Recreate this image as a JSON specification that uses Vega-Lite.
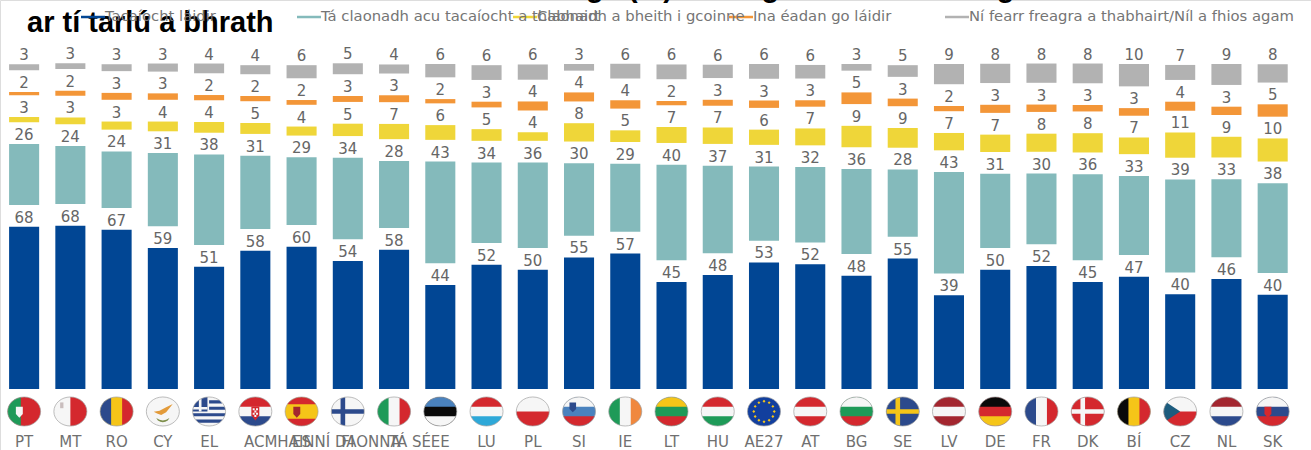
{"$schema":"https://vega.github.io/schema/vega-lite/v6.json","width":1311,"height":450,"padding":0,"autosize":{"type":"none"},"background":"white",
"datasets":{"headline":[{"line":"g\u00a0\u00a0\u00a0(%)\u00a0\u00a0\u00a0\u00a0\u00a0\u00a0\u00a0\u00a0\u00a0\u00a0\u00a0g\u00a0\u00a0\u00a0\u00a0\u00a0\u00a0\u00a0\u00a0\u00a0\u00a0\u00a0\u00a0\u00a0\u00a0\u00a0\u00a0\u00a0\u00a0\u00a0\u00a0\u00a0\u00a0\u00a0\u00a0\u00a0\u00a0\u00a0g","row":"first"},{"line":"ar tí tarlú a bhrath","row":"second"}],
"legendRows":[{"response":"Tacaíocht láidir"},{"response":"Tá claonadh acu tacaíocht a thabhairt"},{"response":"Claonadh a bheith i gcoinne"},{"response":"Ina éadan go láidir"},{"response":"Ní fearr freagra a thabhairt/Níl a fhios agam"}],
"bars":[
{"country":"PT","response":"Tacaíocht láidir","value":68.2,"label":68},{"country":"PT","response":"Tá claonadh acu tacaíocht a thabhairt","value":25.6,"label":26},{"country":"PT","response":"Claonadh a bheith i gcoinne","value":2.2,"label":3},{"country":"PT","response":"Ina éadan go láidir","value":1.4,"label":2},{"country":"PT","response":"Ní fearr freagra a thabhairt/Níl a fhios agam","value":2.5,"label":3},
{"country":"MT","response":"Tacaíocht láidir","value":68.6,"label":68},{"country":"MT","response":"Tá claonadh acu tacaíocht a thabhairt","value":24.4,"label":24},{"country":"MT","response":"Claonadh a bheith i gcoinne","value":2.8,"label":3},{"country":"MT","response":"Ina éadan go láidir","value":2.1,"label":2},{"country":"MT","response":"Ní fearr freagra a thabhairt/Níl a fhios agam","value":2.4,"label":3},
{"country":"RO","response":"Tacaíocht láidir","value":66.9,"label":67},{"country":"RO","response":"Tá claonadh acu tacaíocht a thabhairt","value":23.8,"label":24},{"country":"RO","response":"Claonadh a bheith i gcoinne","value":3.4,"label":3},{"country":"RO","response":"Ina éadan go láidir","value":2.9,"label":3},{"country":"RO","response":"Ní fearr freagra a thabhairt/Níl a fhios agam","value":2.9,"label":3},
{"country":"CY","response":"Tacaíocht láidir","value":59.2,"label":59},{"country":"CY","response":"Tá claonadh acu tacaíocht a thabhairt","value":30.8,"label":31},{"country":"CY","response":"Claonadh a bheith i gcoinne","value":4.1,"label":4},{"country":"CY","response":"Ina éadan go láidir","value":2.7,"label":3},{"country":"CY","response":"Ní fearr freagra a thabhairt/Níl a fhios agam","value":3.4,"label":3},
{"country":"EL","response":"Tacaíocht láidir","value":51.4,"label":51},{"country":"EL","response":"Tá claonadh acu tacaíocht a thabhairt","value":38.0,"label":38},{"country":"EL","response":"Claonadh a bheith i gcoinne","value":4.5,"label":4},{"country":"EL","response":"Ina éadan go láidir","value":2.2,"label":2},{"country":"EL","response":"Ní fearr freagra a thabhairt/Níl a fhios agam","value":4.1,"label":4},
{"country":"ACMHAINNÍ DAONNA","response":"Tacaíocht láidir","value":58.1,"label":58},{"country":"ACMHAINNÍ DAONNA","response":"Tá claonadh acu tacaíocht a thabhairt","value":30.8,"label":31},{"country":"ACMHAINNÍ DAONNA","response":"Claonadh a bheith i gcoinne","value":4.6,"label":5},{"country":"ACMHAINNÍ DAONNA","response":"Ina éadan go láidir","value":2.2,"label":2},{"country":"ACMHAINNÍ DAONNA","response":"Ní fearr freagra a thabhairt/Níl a fhios agam","value":3.8,"label":4},
{"country":"ES","response":"Tacaíocht láidir","value":59.8,"label":60},{"country":"ES","response":"Tá claonadh acu tacaíocht a thabhairt","value":28.4,"label":29},{"country":"ES","response":"Claonadh a bheith i gcoinne","value":3.8,"label":4},{"country":"ES","response":"Ina éadan go láidir","value":2.0,"label":2},{"country":"ES","response":"Ní fearr freagra a thabhairt/Níl a fhios agam","value":5.5,"label":6},
{"country":"FI","response":"Tacaíocht láidir","value":53.8,"label":54},{"country":"FI","response":"Tá claonadh acu tacaíocht a thabhairt","value":34.2,"label":34},{"country":"FI","response":"Claonadh a bheith i gcoinne","value":5.2,"label":5},{"country":"FI","response":"Ina éadan go láidir","value":2.5,"label":3},{"country":"FI","response":"Ní fearr freagra a thabhairt/Níl a fhios agam","value":4.6,"label":5},
{"country":"TÁ SÉ","response":"Tacaíocht láidir","value":58.5,"label":58},{"country":"TÁ SÉ","response":"Tá claonadh acu tacaíocht a thabhairt","value":28.2,"label":28},{"country":"TÁ SÉ","response":"Claonadh a bheith i gcoinne","value":6.4,"label":7},{"country":"TÁ SÉ","response":"Ina éadan go láidir","value":2.9,"label":3},{"country":"TÁ SÉ","response":"Ní fearr freagra a thabhairt/Níl a fhios agam","value":3.8,"label":4},
{"country":"EE","response":"Tacaíocht láidir","value":43.7,"label":44},{"country":"EE","response":"Tá claonadh acu tacaíocht a thabhairt","value":42.7,"label":43},{"country":"EE","response":"Claonadh a bheith i gcoinne","value":6.2,"label":6},{"country":"EE","response":"Ina éadan go láidir","value":1.8,"label":2},{"country":"EE","response":"Ní fearr freagra a thabhairt/Níl a fhios agam","value":5.6,"label":6},
{"country":"LU","response":"Tacaíocht láidir","value":52.2,"label":52},{"country":"LU","response":"Tá claonadh acu tacaíocht a thabhairt","value":33.8,"label":34},{"country":"LU","response":"Claonadh a bheith i gcoinne","value":4.9,"label":5},{"country":"LU","response":"Ina éadan go láidir","value":2.4,"label":3},{"country":"LU","response":"Ní fearr freagra a thabhairt/Níl a fhios agam","value":6.2,"label":6},
{"country":"PL","response":"Tacaíocht láidir","value":50.1,"label":50},{"country":"PL","response":"Tá claonadh acu tacaíocht a thabhairt","value":35.9,"label":36},{"country":"PL","response":"Claonadh a bheith i gcoinne","value":3.6,"label":4},{"country":"PL","response":"Ina éadan go láidir","value":3.8,"label":4},{"country":"PL","response":"Ní fearr freagra a thabhairt/Níl a fhios agam","value":6.4,"label":6},
{"country":"SI","response":"Tacaíocht láidir","value":55.3,"label":55},{"country":"SI","response":"Tá claonadh acu tacaíocht a thabhairt","value":30.4,"label":30},{"country":"SI","response":"Claonadh a bheith i gcoinne","value":7.7,"label":8},{"country":"SI","response":"Ina éadan go láidir","value":3.8,"label":4},{"country":"SI","response":"Ní fearr freagra a thabhairt/Níl a fhios agam","value":2.8,"label":3},
{"country":"IE","response":"Tacaíocht láidir","value":56.9,"label":57},{"country":"IE","response":"Tá claonadh acu tacaíocht a thabhairt","value":28.6,"label":29},{"country":"IE","response":"Claonadh a bheith i gcoinne","value":4.9,"label":5},{"country":"IE","response":"Ina éadan go láidir","value":3.5,"label":4},{"country":"IE","response":"Ní fearr freagra a thabhairt/Níl a fhios agam","value":6.2,"label":6},
{"country":"LT","response":"Tacaíocht láidir","value":45.0,"label":45},{"country":"LT","response":"Tá claonadh acu tacaíocht a thabhairt","value":40.1,"label":40},{"country":"LT","response":"Claonadh a bheith i gcoinne","value":6.7,"label":7},{"country":"LT","response":"Ina éadan go láidir","value":1.8,"label":2},{"country":"LT","response":"Ní fearr freagra a thabhairt/Níl a fhios agam","value":6.2,"label":6},
{"country":"HU","response":"Tacaíocht láidir","value":47.9,"label":48},{"country":"HU","response":"Tá claonadh acu tacaíocht a thabhairt","value":36.8,"label":37},{"country":"HU","response":"Claonadh a bheith i gcoinne","value":6.9,"label":7},{"country":"HU","response":"Ina éadan go láidir","value":2.5,"label":3},{"country":"HU","response":"Ní fearr freagra a thabhairt/Níl a fhios agam","value":5.6,"label":6},
{"country":"AE27","response":"Tacaíocht láidir","value":53.2,"label":53},{"country":"AE27","response":"Tá claonadh acu tacaíocht a thabhairt","value":31.1,"label":31},{"country":"AE27","response":"Claonadh a bheith i gcoinne","value":6.4,"label":6},{"country":"AE27","response":"Ina éadan go láidir","value":3.1,"label":3},{"country":"AE27","response":"Ní fearr freagra a thabhairt/Níl a fhios agam","value":6.2,"label":6},
{"country":"AT","response":"Tacaíocht láidir","value":52.4,"label":52},{"country":"AT","response":"Tá claonadh acu tacaíocht a thabhairt","value":31.7,"label":32},{"country":"AT","response":"Claonadh a bheith i gcoinne","value":7.1,"label":7},{"country":"AT","response":"Ina éadan go láidir","value":2.7,"label":3},{"country":"AT","response":"Ní fearr freagra a thabhairt/Níl a fhios agam","value":5.7,"label":6},
{"country":"BG","response":"Tacaíocht láidir","value":47.6,"label":48},{"country":"BG","response":"Tá claonadh acu tacaíocht a thabhairt","value":35.7,"label":36},{"country":"BG","response":"Claonadh a bheith i gcoinne","value":9.0,"label":9},{"country":"BG","response":"Ina éadan go láidir","value":4.9,"label":5},{"country":"BG","response":"Ní fearr freagra a thabhairt/Níl a fhios agam","value":2.8,"label":3},
{"country":"SE","response":"Tacaíocht láidir","value":54.8,"label":55},{"country":"SE","response":"Tá claonadh acu tacaíocht a thabhairt","value":28.3,"label":28},{"country":"SE","response":"Claonadh a bheith i gcoinne","value":8.3,"label":9},{"country":"SE","response":"Ina éadan go láidir","value":3.2,"label":3},{"country":"SE","response":"Ní fearr freagra a thabhairt/Níl a fhios agam","value":4.9,"label":5},
{"country":"LV","response":"Tacaíocht láidir","value":39.4,"label":39},{"country":"LV","response":"Tá claonadh acu tacaíocht a thabhairt","value":42.6,"label":43},{"country":"LV","response":"Claonadh a bheith i gcoinne","value":7.3,"label":7},{"country":"LV","response":"Ina éadan go láidir","value":2.2,"label":2},{"country":"LV","response":"Ní fearr freagra a thabhairt/Níl a fhios agam","value":8.5,"label":9},
{"country":"DE","response":"Tacaíocht láidir","value":50.1,"label":50},{"country":"DE","response":"Tá claonadh acu tacaíocht a thabhairt","value":31.2,"label":31},{"country":"DE","response":"Claonadh a bheith i gcoinne","value":7.3,"label":7},{"country":"DE","response":"Ina éadan go láidir","value":3.4,"label":3},{"country":"DE","response":"Ní fearr freagra a thabhairt/Níl a fhios agam","value":8.1,"label":8},
{"country":"FR","response":"Tacaíocht láidir","value":51.7,"label":52},{"country":"FR","response":"Tá claonadh acu tacaíocht a thabhairt","value":29.7,"label":30},{"country":"FR","response":"Claonadh a bheith i gcoinne","value":7.6,"label":8},{"country":"FR","response":"Ina éadan go láidir","value":3.1,"label":3},{"country":"FR","response":"Ní fearr freagra a thabhairt/Níl a fhios agam","value":8.1,"label":8},
{"country":"DK","response":"Tacaíocht láidir","value":45.0,"label":45},{"country":"DK","response":"Tá claonadh acu tacaíocht a thabhairt","value":36.1,"label":36},{"country":"DK","response":"Claonadh a bheith i gcoinne","value":8.1,"label":8},{"country":"DK","response":"Ina éadan go láidir","value":2.7,"label":3},{"country":"DK","response":"Ní fearr freagra a thabhairt/Níl a fhios agam","value":8.3,"label":8},
{"country":"BÍ","response":"Tacaíocht láidir","value":47.2,"label":47},{"country":"BÍ","response":"Tá claonadh acu tacaíocht a thabhairt","value":33.2,"label":33},{"country":"BÍ","response":"Claonadh a bheith i gcoinne","value":7.0,"label":7},{"country":"BÍ","response":"Ina éadan go láidir","value":3.2,"label":3},{"country":"BÍ","response":"Ní fearr freagra a thabhairt/Níl a fhios agam","value":9.4,"label":10},
{"country":"CZ","response":"Tacaíocht láidir","value":39.8,"label":40},{"country":"CZ","response":"Tá claonadh acu tacaíocht a thabhairt","value":39.1,"label":39},{"country":"CZ","response":"Claonadh a bheith i gcoinne","value":10.6,"label":11},{"country":"CZ","response":"Ina éadan go láidir","value":3.8,"label":4},{"country":"CZ","response":"Ní fearr freagra a thabhairt/Níl a fhios agam","value":6.3,"label":7},
{"country":"NL","response":"Tacaíocht láidir","value":46.2,"label":46},{"country":"NL","response":"Tá claonadh acu tacaíocht a thabhairt","value":32.8,"label":33},{"country":"NL","response":"Claonadh a bheith i gcoinne","value":8.7,"label":9},{"country":"NL","response":"Ina éadan go láidir","value":3.5,"label":3},{"country":"NL","response":"Ní fearr freagra a thabhairt/Níl a fhios agam","value":8.8,"label":9},
{"country":"SK","response":"Tacaíocht láidir","value":39.6,"label":40},{"country":"SK","response":"Tá claonadh acu tacaíocht a thabhairt","value":37.7,"label":38},{"country":"SK","response":"Claonadh a bheith i gcoinne","value":9.7,"label":10},{"country":"SK","response":"Ina éadan go láidir","value":5.2,"label":5},{"country":"SK","response":"Ní fearr freagra a thabhairt/Níl a fhios agam","value":7.7,"label":8}
],
"flags":[
{"country":"PT","part":"disk","tint":"red"},{"country":"PT","part":"vleft40","tint":"green"},{"country":"PT","part":"shieldL","tint":"white"},
{"country":"MT","part":"disk","tint":"white"},{"country":"MT","part":"vright2","tint":"red"},{"country":"MT","part":"cornerL","tint":"silver"},
{"country":"RO","part":"disk","tint":"yellow"},{"country":"RO","part":"v3left","tint":"blue"},{"country":"RO","part":"v3right","tint":"red"},
{"country":"CY","part":"disk","tint":"white"},{"country":"CY","part":"island","tint":"amber"},{"country":"CY","part":"leaves","tint":"olive"},
{"country":"EL","part":"disk","tint":"white"},{"country":"EL","part":"elstripes","tint":"blue"},{"country":"EL","part":"canton","tint":"blue"},{"country":"EL","part":"cantoncross","tint":"white"},
{"country":"ACMHAINNÍ DAONNA","part":"disk","tint":"white"},{"country":"ACMHAINNÍ DAONNA","part":"h3top","tint":"red"},{"country":"ACMHAINNÍ DAONNA","part":"h3bot","tint":"blue"},{"country":"ACMHAINNÍ DAONNA","part":"shieldC","tint":"red"},{"country":"ACMHAINNÍ DAONNA","part":"checker","tint":"white"},
{"country":"ES","part":"disk","tint":"yellow"},{"country":"ES","part":"hqtop","tint":"red"},{"country":"ES","part":"hqbot","tint":"red"},{"country":"ES","part":"shieldL","tint":"maroon"},
{"country":"FI","part":"disk","tint":"white"},{"country":"FI","part":"crossH","tint":"blue"},{"country":"FI","part":"crossV","tint":"blue"},
{"country":"TÁ SÉ","part":"disk","tint":"white"},{"country":"TÁ SÉ","part":"v3left","tint":"green"},{"country":"TÁ SÉ","part":"v3right","tint":"red"},
{"country":"EE","part":"disk","tint":"black"},{"country":"EE","part":"h3top","tint":"steel"},{"country":"EE","part":"h3bot","tint":"white"},
{"country":"LU","part":"disk","tint":"white"},{"country":"LU","part":"h3top","tint":"red"},{"country":"LU","part":"h3bot","tint":"sky"},
{"country":"PL","part":"disk","tint":"white"},{"country":"PL","part":"hbot2","tint":"red"},
{"country":"SI","part":"disk","tint":"steel"},{"country":"SI","part":"h3top","tint":"white"},{"country":"SI","part":"h3bot","tint":"red"},{"country":"SI","part":"shieldTL","tint":"blue"},
{"country":"IE","part":"disk","tint":"white"},{"country":"IE","part":"v3left","tint":"green"},{"country":"IE","part":"v3right","tint":"orange"},
{"country":"LT","part":"disk","tint":"green"},{"country":"LT","part":"h3top","tint":"yellow"},{"country":"LT","part":"h3bot","tint":"red"},
{"country":"HU","part":"disk","tint":"white"},{"country":"HU","part":"h3top","tint":"red"},{"country":"HU","part":"h3bot","tint":"green"},
{"country":"AE27","part":"disk","tint":"eu"},{"country":"AE27","part":"stars","tint":"yellow"},
{"country":"AT","part":"disk","tint":"white"},{"country":"AT","part":"h3top","tint":"red"},{"country":"AT","part":"h3bot","tint":"red"},
{"country":"BG","part":"disk","tint":"green"},{"country":"BG","part":"h3top","tint":"white"},{"country":"BG","part":"h3bot","tint":"red"},
{"country":"SE","part":"disk","tint":"blue"},{"country":"SE","part":"crossH","tint":"yellow"},{"country":"SE","part":"crossV","tint":"yellow"},
{"country":"LV","part":"disk","tint":"white"},{"country":"LV","part":"h3top","tint":"maroon"},{"country":"LV","part":"h3bot","tint":"maroon"},
{"country":"DE","part":"disk","tint":"red"},{"country":"DE","part":"h3top","tint":"black"},{"country":"DE","part":"h3bot","tint":"yellow"},
{"country":"FR","part":"disk","tint":"white"},{"country":"FR","part":"v3left","tint":"blue"},{"country":"FR","part":"v3right","tint":"red"},
{"country":"DK","part":"disk","tint":"red"},{"country":"DK","part":"crossH","tint":"white"},{"country":"DK","part":"crossV","tint":"white"},
{"country":"BÍ","part":"disk","tint":"yellow"},{"country":"BÍ","part":"v3left","tint":"black"},{"country":"BÍ","part":"v3right","tint":"red"},
{"country":"CZ","part":"disk","tint":"white"},{"country":"CZ","part":"hbot2","tint":"red"},{"country":"CZ","part":"tri","tint":"petrol"},
{"country":"NL","part":"disk","tint":"white"},{"country":"NL","part":"h3top","tint":"maroon"},{"country":"NL","part":"h3bot","tint":"blue"},
{"country":"SK","part":"disk","tint":"blue"},{"country":"SK","part":"h3top","tint":"white"},{"country":"SK","part":"h3bot","tint":"red"},{"country":"SK","part":"shieldL","tint":"red"}
]},
"resolve":{"scale":{"x":"independent"},"axis":{"x":"independent"}},
"layer":[
{"data":{"name":"headline"},
"encoding":{"x":{"field":"row","type":"nominal","sort":null,"axis":null,"scale":{"type":"point","domain":["second","first"],"range":[27,586],"padding":0}},"text":{"field":"line","type":"nominal"}},
"layer":[
{"transform":[{"filter":"datum.row==='first'"}],"mark":{"type":"text","align":"left","baseline":"alphabetic","font":"Liberation Sans","fontWeight":"bold","fontSize":29,"color":"#000000"},"encoding":{"y":{"datum":164.7,"type":"quantitative"}}},
{"transform":[{"filter":"datum.row==='second'"}],"mark":{"type":"text","align":"left","baseline":"alphabetic","font":"Liberation Sans","fontWeight":"bold","fontSize":29,"color":"#000000"},"encoding":{"y":{"datum":150,"type":"quantitative"}}}
]},
{"encoding":{"x":{"field":"country","type":"nominal","sort":null,
"scale":{"domain":["PT","MT","RO","CY","EL","ACMHAINNÍ DAONNA","ES","FI","TÁ SÉ","EE","LU","PL","SI","IE","LT","HU","AE27","AT","BG","SE","LV","DE","FR","DK","BÍ","CZ","NL","SK"],"range":[1,1295.8],"paddingInner":0.35,"paddingOuter":0.175},
"axis":{"title":null,"domain":false,"ticks":false,"labelAngle":0,"labelFontSize":15,"labelFont":"DejaVu Sans","labelColor":"#707070","labelOverlap":false,"labelLimit":0,"labelPadding":-16,"labelOffset":{"expr":"datum.value==='ACMHAINNÍ DAONNA'?67:datum.value==='TÁ SÉ'?16:0"}}}},
"layer":[
{"data":{"name":"bars"},
"transform":[{"calculate":"indexof(['Tacaíocht láidir','Tá claonadh acu tacaíocht a thabhairt','Claonadh a bheith i gcoinne','Ina éadan go láidir','Ní fearr freagra a thabhairt/Níl a fhios agam'],datum.response)","as":"rank"},{"stack":"value","groupby":["country"],"sort":[{"field":"rank","order":"ascending"}],"as":["low","high"]},{"calculate":"datum.low+datum.rank*9.14","as":"start"},{"calculate":"datum.high+datum.rank*9.14","as":"end"}],
"layer":[
{"mark":{"type":"bar"},"encoding":{"y":{"field":"start","type":"quantitative","title":null,"axis":null,"scale":{"domain":[-25.63,163.45],"nice":false,"zero":false}},"y2":{"field":"end"},
"color":{"field":"response","type":"nominal","legend":null,"scale":{"domain":["Tacaíocht láidir","Tá claonadh acu tacaíocht a thabhairt","Claonadh a bheith i gcoinne","Ina éadan go láidir","Ní fearr freagra a thabhairt/Níl a fhios agam"],"range":["#014694","#84BABB","#EFD639","#F39638","#B2B2B2"]}}}},
{"mark":{"type":"text","baseline":"alphabetic","dy":-4,"font":"DejaVu Sans","fontSize":15,"color":"#666666"},"encoding":{"y":{"field":"end","type":"quantitative"},"text":{"field":"label","type":"quantitative"}}}
]},
{"data":{"name":"flags"},"mark":{"type":"point","filled":true,"size":1089,"opacity":1,"strokeWidth":0},
"encoding":{"y":{"datum":-9.45,"type":"quantitative"},
"shape":{"field":"part","type":"nominal","legend":null,"scale":{"domain":["disk","h3top","h3bot","v3left","v3right","hbot2","vright2","vleft40","hqtop","hqbot","crossH","crossV","tri","stars","island","leaves","elstripes","canton","cantoncross","shieldC","checker","shieldL","shieldTL","cornerL"],
"range":["M-1 0A1 .88 0 1 1 1 0A1 .88 0 1 1 -1 0Z","M-.943 -.293A1 .88 0 0 1 .943 -.293Z","M.943 .293A1 .88 0 0 1 -.943 .293Z","M-.333 -.83A1 .88 0 0 0 -.333 .83Z","M.333 .83A1 .88 0 0 0 .333 -.83Z","M1 0A1 .88 0 0 1 -1 0Z","M0 -.88A1 .88 0 0 1 0 .88Z","M-.2 -.862A1 .88 0 0 0 -.2 .862Z","M-.866 -.44A1 .88 0 0 1 .866 -.44Z","M.866 .44A1 .88 0 0 1 -.866 .44Z","M-.987 -.14L.987 -.14L.987 .14L-.987 .14Z","M-.44 -.79L-.16 -.869L-.16 .869L-.44 .79Z","M-.8 -.53L0 0L-.8 .53A1 .88 0 0 1 -.8 -.53Z","M.62 -.09L.71 0L.62 .09L.53 0ZM.537 .22L.627 .31L.537 .4L.447 .31ZM.31 .447L.4 .537L.31 .627L.22 .537ZM0 .53L.09 .62L0 .71L-.09 .62ZM-.31 .447L-.22 .537L-.31 .627L-.4 .537ZM-.537 .22L-.447 .31L-.537 .4L-.627 .31ZM-.62 -.09L-.53 0L-.62 .09L-.71 0ZM-.537 -.4L-.447 -.31L-.537 -.22L-.627 -.31ZM-.31 -.627L-.22 -.537L-.31 -.447L-.4 -.537ZM0 -.71L.09 -.62L0 -.53L-.09 -.62ZM.31 -.627L.4 -.537L.31 -.447L.22 -.537ZM.537 -.4L.627 -.31L.537 -.22L.447 -.31Z","M-.55 .02L-.2 -.05L.2 -.25L.6 -.45L.2 .05L-.1 .22L-.35 .12Z","M-.4 .4Q0 .7 .4 .4L.3 .55Q0 .75 -.3 .55Z","M0 -.68L.635 -.68L.8 -.49L0 -.49ZM0 -.29L.94 -.29L.99 -.1L0 -.1ZM-.99 .1L.99 .1L.94 .29L-.94 .29ZM-.83 .49L.83 .49L.635 .68L-.635 .68Z","M-.1 -.875A1 .88 0 0 0 -1 0L-.1 0Z","M-.95 -.27L-.1 -.27L-.1 -.12L-.98 -.12ZM-.62 -.75L-.46 -.78L-.46 0L-.62 0Z","M-.24 -.3L.24 -.3L.24 .25L0 .55L-.24 .25Z","M-.16 -.2h.12v.12h-.12ZM.04 -.2h.12v.12h-.12ZM-.06 -.06h.12v.12h-.12ZM-.16 .08h.12v.12h-.12ZM.04 .08h.12v.12h-.12ZM-.06 .22h.12v.12h-.12Z","M-.5 -.28L-.08 -.28L-.08 .15L-.29 .38L-.5 .15Z","M-.58 -.55L-.18 -.55L-.18 -.15L-.38 .05L-.58 -.15Z","M-.62 -.55L-.42 -.55L-.42 -.2L-.62 -.2Z"]}},
"fill":{"field":"tint","type":"nominal","legend":null,"scale":{"domain":["red","white","green","yellow","blue","black","steel","sky","orange","maroon","eu","amber","olive","petrol","silver"],"range":["#D4282E","#F6F6F6","#1E9A58","#F5C518","#2C4A8C","#0A0A0A","#4A82BE","#2EA8D8","#F0883E","#A3262F","#123F9E","#E39B3A","#7E8F4C","#1D5C7E","#C9BDBD"]}}}},
{"data":{"name":"flags"},"transform":[{"filter":"datum.part==='disk'"}],"mark":{"type":"point","filled":false,"size":1089,"stroke":"#A0A0A0","strokeWidth":0.7,"opacity":1,"shape":"M-1 0A1 .88 0 1 1 1 0A1 .88 0 1 1 -1 0Z"},"encoding":{"y":{"datum":-9.45,"type":"quantitative"}}}
]},
{"data":{"name":"legendRows"},
"encoding":{"x":{"field":"response","type":"nominal","sort":null,"axis":null,"scale":{"type":"point","domain":["Tacaíocht láidir","Tá claonadh acu tacaíocht a thabhairt","Claonadh a bheith i gcoinne","Ina éadan go láidir","Ní fearr freagra a thabhairt/Níl a fhios agam"],"range":[93,957],"padding":0}},"y":{"datum":156.3,"type":"quantitative"}},
"layer":[
{"mark":{"type":"point","shape":"stroke","size":576,"strokeWidth":2.5,"filled":false,"opacity":1},"encoding":{"color":{"field":"response","type":"nominal","legend":null}}},
{"mark":{"type":"text","align":"left","baseline":"middle","dx":12,"font":"DejaVu Sans","fontSize":14.8,"color":"#757575"},"encoding":{"text":{"field":"response","type":"nominal"}}}
]}
]}
